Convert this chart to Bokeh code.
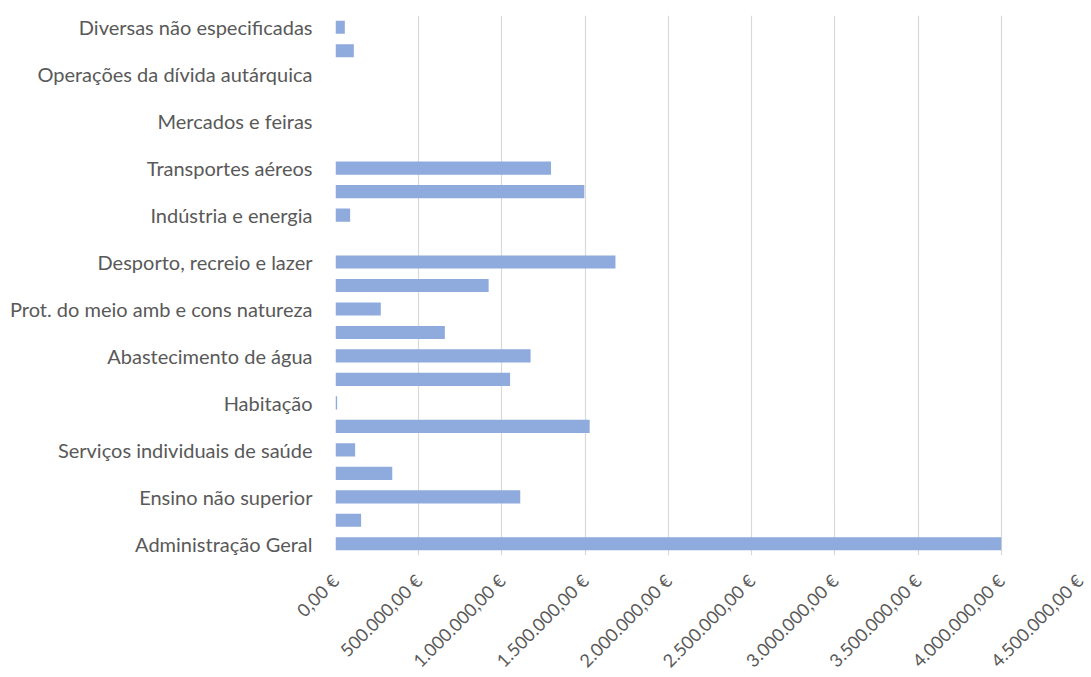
from bokeh.plotting import figure
from bokeh.models import FixedTicker, Range1d, ColumnDataSource, CustomJSTickFormatter
from bokeh.embed import file_html
from bokeh.resources import INLINE

categories = [
    "Administração Geral",
    "Segurança e ordem pública",
    "Ensino não superior",
    "Serviços auxiliares de ensino",
    "Serviços individuais de saúde",
    "Segurança e acção sociais",
    "Habitação",
    "Ordenamento do território",
    "Abastecimento de água",
    "Resíduos sólidos",
    "Prot. do meio amb e cons natureza",
    "Cultura",
    "Desporto, recreio e lazer",
    "Agricultura, pecuária, silvicultura, caça e pesca",
    "Indústria e energia",
    "Transportes rodoviários",
    "Transportes aéreos",
    "Transportes fluviais",
    "Mercados e feiras",
    "Turismo",
    "Operações da dívida autárquica",
    "Transferências entre administrações",
    "Diversas não especificadas",
]
values = [
    4000000, 154000, 1110000, 341000, 118000, 1527000, 10000, 1049000,
    1172000, 657000, 272000, 920000, 1682000, 0, 88000, 1495000, 1295000,
    0, 0, 0, 0, 110000, 56000,
]
x_ticks = [0, 500000, 1000000, 1500000, 2000000, 2500000, 3000000, 3500000, 4000000, 4500000]

idx = list(range(len(categories)))
src = ColumnDataSource(dict(y=idx, v=values, name=categories))

p = figure(frame_width=749, frame_height=540, output_backend="svg", toolbar_location=None,
           x_range=Range1d(0, 4500000), y_range=Range1d(-0.5, len(categories) - 0.5))
p.min_border_left = 335
p.min_border_right = 3
p.min_border_top = 15
p.min_border_bottom = 100
p.outline_line_color = None

p.hbar(y="y", right="v", left=0, height=0.56, source=src,
       fill_color="#8FAADC", line_color=None)

# y axis: every other category label
p.yaxis.ticker = FixedTicker(ticks=idx[::2])
p.yaxis.major_label_overrides = {i: categories[i] for i in idx[::2]}
p.yaxis.axis_line_color = None
p.yaxis.major_tick_line_color = None
p.yaxis.minor_tick_line_color = None
p.yaxis.major_label_text_font = "Lato"
p.yaxis.major_label_text_font_size = "20px"
p.yaxis.major_label_text_color = "#595959"
p.yaxis.major_label_standoff = 17
p.ygrid.grid_line_color = None

# x axis
p.xaxis.ticker = FixedTicker(ticks=x_ticks)
p.xaxis.formatter = CustomJSTickFormatter(code="""
    const s = Math.round(tick).toString().replace(/\\B(?=(\\d{3})+(?!\\d))/g, '.');
    return s + ',00 €';
""")
p.xaxis.major_label_orientation = 0.785398
p.xaxis.axis_line_color = None
p.xaxis.major_tick_line_color = None
p.xaxis.minor_tick_line_color = None
p.xaxis.major_label_text_font = "Lato"
p.xaxis.major_label_text_font_size = "18px"
p.xaxis.major_label_text_color = "#595959"
p.xaxis.major_label_standoff = 16
p.xgrid.ticker = FixedTicker(ticks=x_ticks)
p.xgrid.grid_line_color = "#D9D9D9"
p.xgrid.grid_line_width = 1.2

open("out.html", "w").write(file_html(p, INLINE))
